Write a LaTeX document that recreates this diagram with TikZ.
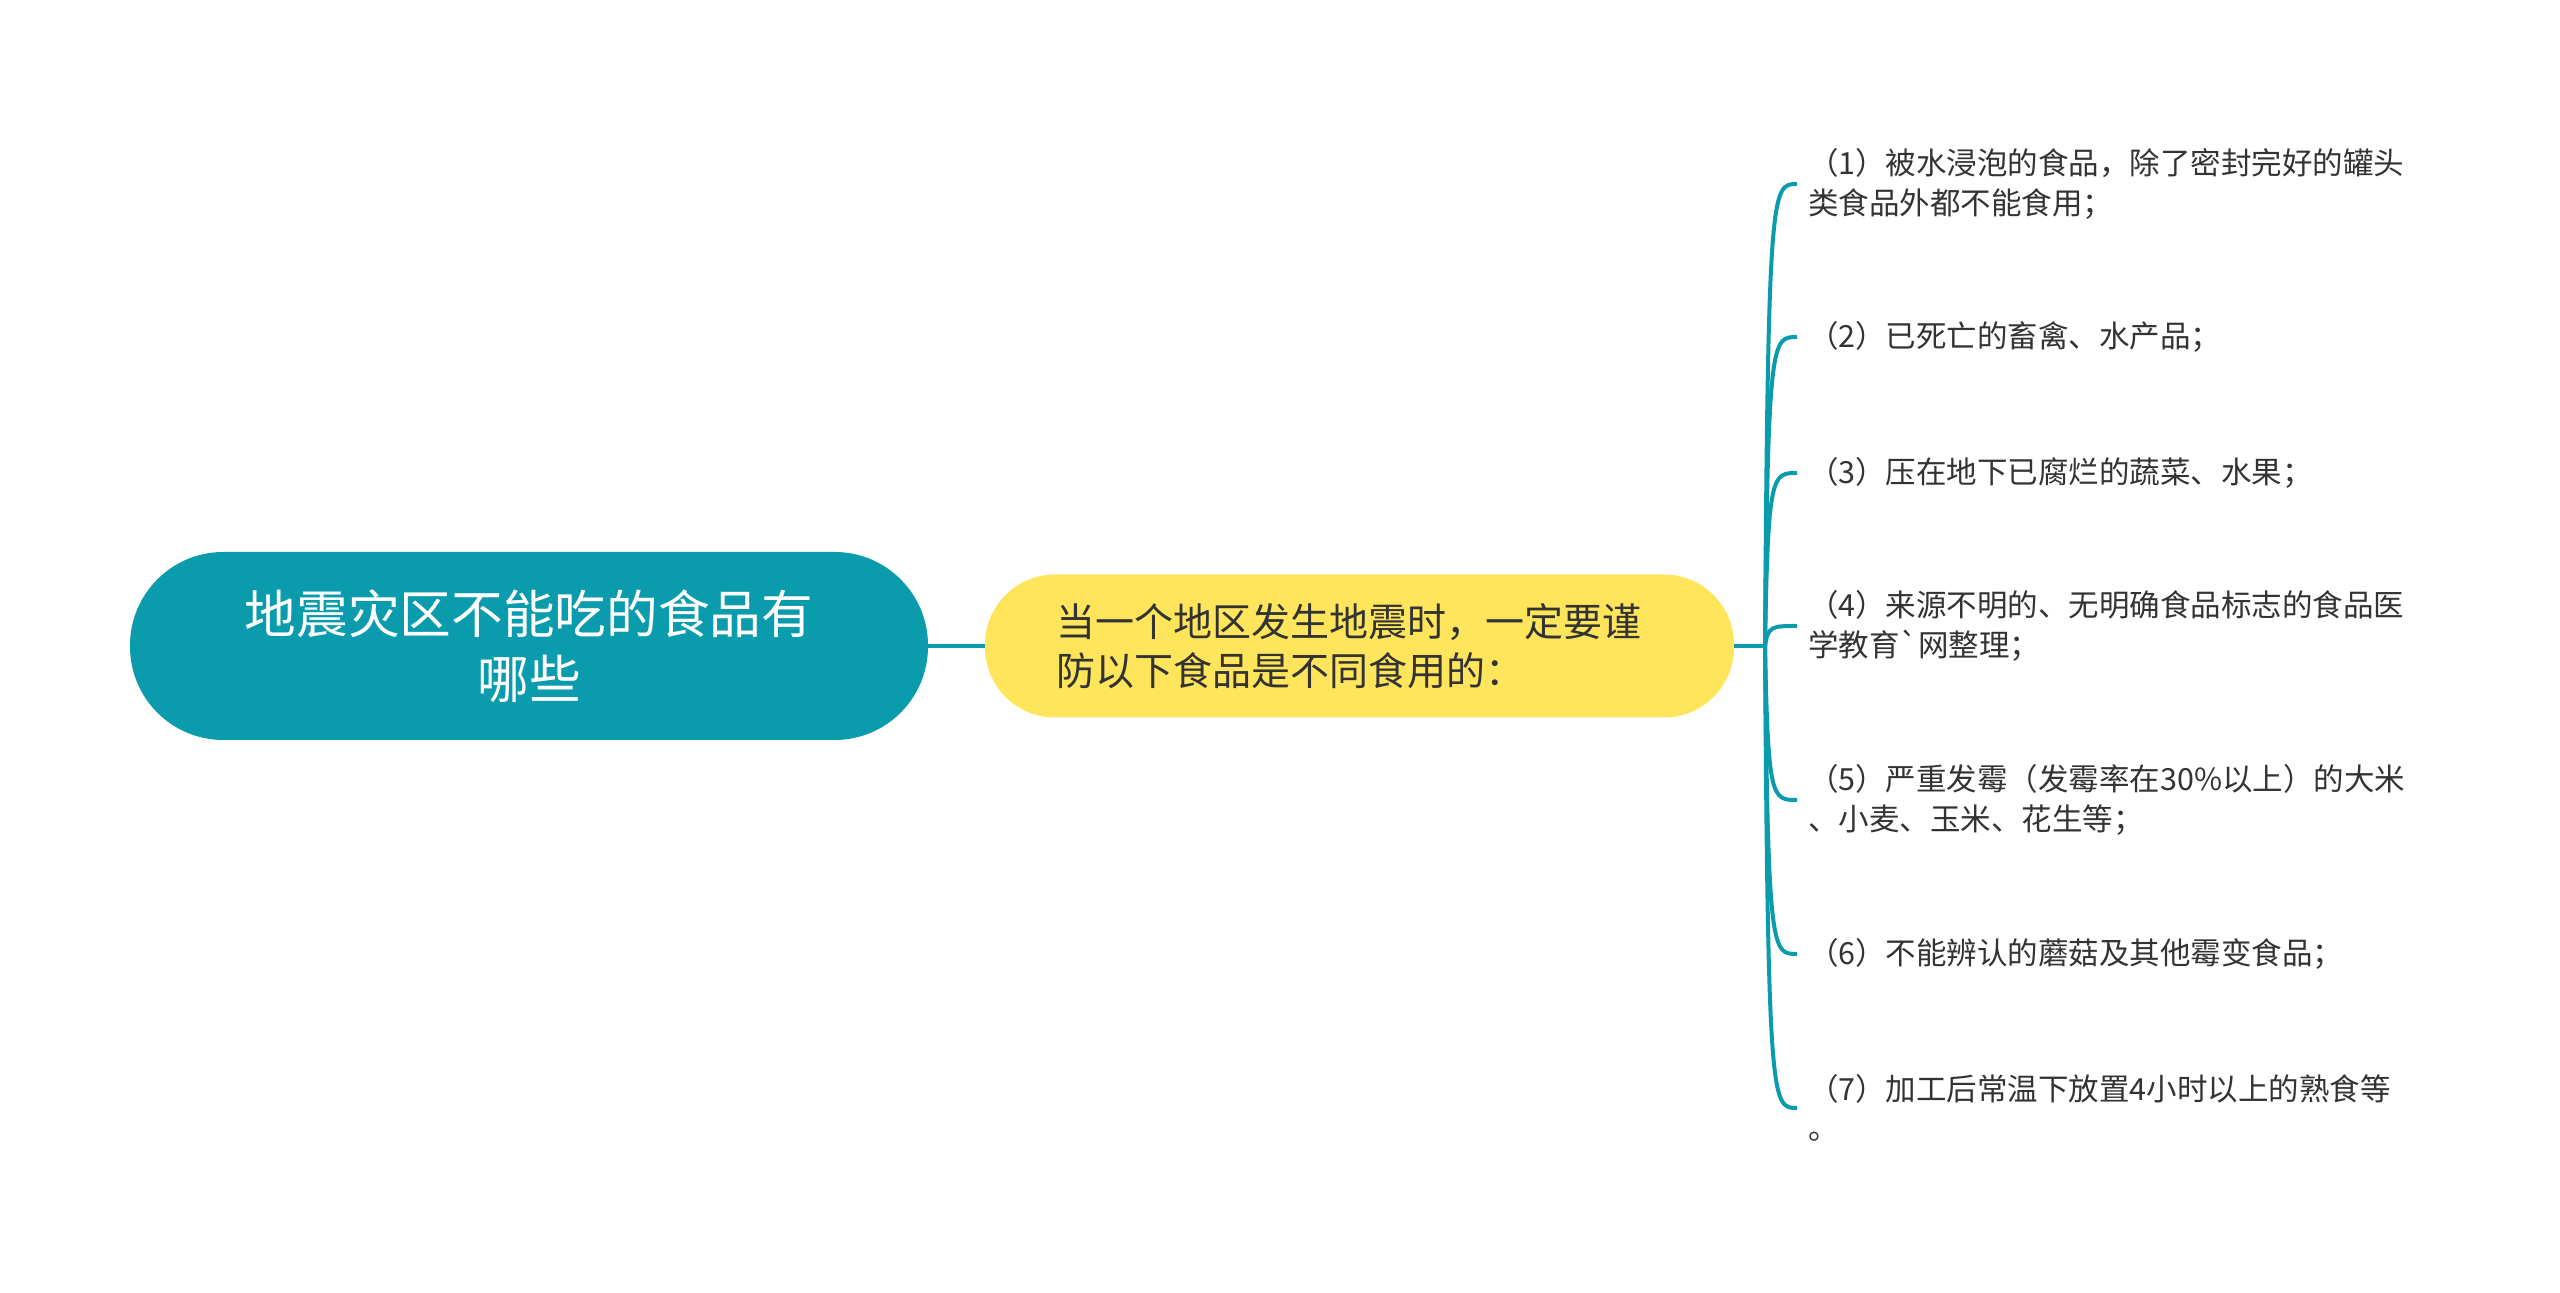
\documentclass[tikz,border=0pt]{standalone}
\usepackage{fontspec}
\setmainfont{Noto Sans CJK SC}[Ligatures=TeXOff]
\definecolor{mapteal}{HTML}{0A9BAD}
\definecolor{mapyellow}{HTML}{FFE55B}
\definecolor{maptext}{HTML}{333333}

\begin{document}
\begin{tikzpicture}[
  x=0.3pt,
  y=-0.3pt,
  every node/.style={inner sep=0pt, outer sep=0pt},
  rootbox/.style={
    fill=mapteal, text=white, rounded corners=28pt, align=center,
    minimum width=239.4pt, minimum height=56.4pt,
    font=\fontsize{15.5pt}{19.5pt}\selectfont,
  },
  midbox/.style={
    fill=mapyellow, text=maptext, rounded corners=21pt, align=left,
    text width=182.1pt, inner xsep=21.3pt, minimum height=42.9pt,
    font=\fontsize{11.7pt}{14.7pt}\selectfont,
  },
  leaf/.style={
    anchor=west, align=left, text=maptext,
    font=\fontsize{9.15pt}{11.85pt}\selectfont,
  },
  branch/.style={draw=mapteal, line width=1.2pt},
]
  \useasboundingbox (0,0) rectangle (2560,1293);

  \node[rootbox] (root) at (529,646) {地震灾区不能吃的食品有\\哪些};
  \node[midbox] (mid) at (1359.5,646)
    {当一个地区发生地震时，一定要谨\\防以下食品是不同食用的：};
  \coordinate (junc) at (1765,646);

  \draw[branch] (root.east) -- (mid.west);
  \draw[branch] (mid.east) -- (junc);

  % the seven items hang off one fork
  \foreach \name/\y/\txt in {
    it1/184/{（1）被水浸泡的食品，除了密封完好的罐头\\类食品外都不能食用；},
    it2/337/{（2）已死亡的畜禽、水产品；},
    it3/473/{（3）压在地下已腐烂的蔬菜、水果；},
    it4/626/{（4）来源不明的、无明确食品标志的食品医\\学教育\symbol{96}网整理；},
    it5/800/{（5）严重发霉（发霉率在30\%以上）的大米\\、小麦、玉米、花生等；},
    it6/954/{（6）不能辨认的蘑菇及其他霉变食品；},
    it7/1108/{（7）加工后常温下放置4小时以上的熟食等\\。}%
  } {
    \node[leaf] (\name) at (1808,\y) {\txt};
    \draw[branch]
      (junc) .. controls (1768,\y) and (1772,\y) .. ([xshift=-3.3pt]\name.west)
    ;
  }
\end{tikzpicture}
\end{document}
